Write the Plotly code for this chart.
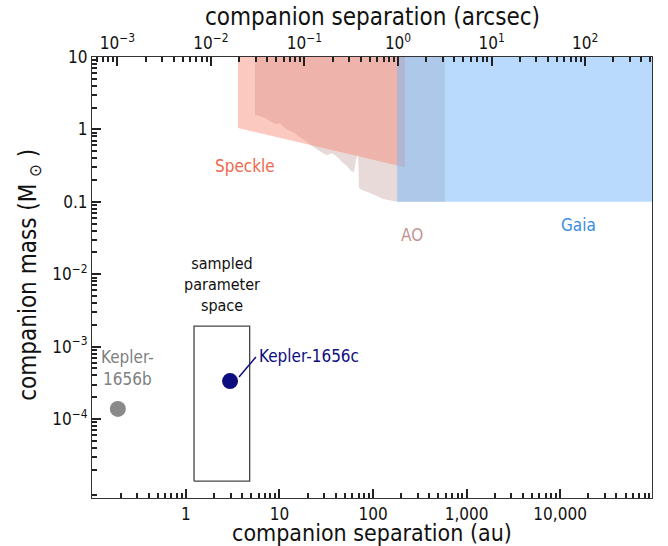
import numpy as np
import plotly.graph_objects as go

# ---------------- data ----------------
DIST_PC = 185.0  # au per arcsec

speckle_x = [3.6, 3.6, 220, 220]
speckle_y = [10, 1.05, 0.30, 10]

ao_sep = [5.47, 5.47, 6.19, 7.0, 8.31, 9.4, 10.1, 10.9, 12.3, 13.6, 14.6, 15.8, 17.8, 20.2,
          22.8, 25.8, 29.2, 32.2, 36.4, 41.2, 46.6, 52.7, 58.2, 62.6, 65.8, 69.2, 70.8,
          76.3, 92.9, 128, 181, 589, 589]
ao_mass = [10, 1.58, 1.53, 1.44, 1.26, 1.19, 1.23, 1.11, 0.98, 0.92, 0.89, 0.81, 0.74, 0.65,
           0.59, 0.52, 0.47, 0.44, 0.47, 0.42, 0.355, 0.31, 0.266, 0.258, 0.38, 0.457, 0.155,
           0.146, 0.132, 0.109, 0.1, 0.1, 10]

gaia_x = [181, 181, 1.2e5, 1.2e5]
gaia_y = [10, 0.1, 0.1, 10]

box_sep = [1.22, 4.8]
box_mass = [1.39e-5, 1.92e-3]

planet_names = ["Kepler-1656b", "Kepler-1656c"]
planet_sep = [0.187, 2.96]
planet_mass = [1.38e-4, 3.35e-4]
planet_colors = ["#8a8a8a", "#0d0d80"]

x_range_au = [0.099, 9.6e4]
y_range = [10 ** -5.09, 10]

top_tickvals = [1e-3, 1e-2, 1e-1, 1e0, 1e1, 1e2]
top_ticktext = ["10<sup>−3</sup>", "10<sup>−2</sup>", "10<sup>−1</sup>", "10<sup>0</sup>",
                "10<sup>1</sup>", "10<sup>2</sup>"]
bot_tickvals = [1, 10, 100, 1000, 10000]
bot_ticktext = ["1", "10", "100", "1,000", "10,000"]
y_tickvals = [10, 1, 0.1, 1e-2, 1e-3, 1e-4]
y_ticktext = ["10", "1", "0.1", "10<sup>−2</sup>", "10<sup>−3</sup>", "10<sup>−4</sup>"]

FONT = "DejaVu Sans Condensed, DejaVu Sans, sans-serif"
TXT = "#111111"
TICKC = "#222222"


def minor_vals(lo_exp, hi_exp):
    return [m * 10.0 ** e for e in range(lo_exp, hi_exp + 1) for m in range(2, 10)]


def all_ticks(major_vals, major_text, lo_exp, hi_exp):
    mv = minor_vals(lo_exp, hi_exp)
    return list(major_vals) + mv, list(major_text) + [""] * len(mv)


fig = go.Figure()

fig.add_trace(go.Scatter(x=ao_sep, y=ao_mass, fill="toself", mode="lines",
                         line=dict(width=0), fillcolor="rgba(190,150,145,0.35)",
                         hoverinfo="skip", showlegend=False))
fig.add_trace(go.Scatter(x=speckle_x, y=speckle_y, fill="toself", mode="lines",
                         line=dict(width=0), fillcolor="rgba(248,120,100,0.40)",
                         hoverinfo="skip", showlegend=False))
fig.add_trace(go.Scatter(x=gaia_x, y=gaia_y, fill="toself", mode="lines",
                         line=dict(width=0), fillcolor="rgba(120,185,250,0.52)",
                         hoverinfo="skip", showlegend=False))

fig.add_trace(go.Scatter(x=[box_sep[0], box_sep[1], box_sep[1], box_sep[0], box_sep[0]],
                         y=[box_mass[0], box_mass[0], box_mass[1], box_mass[1], box_mass[0]],
                         mode="lines", line=dict(color="#444444", width=1.3),
                         hoverinfo="skip", showlegend=False))

fig.add_trace(go.Scatter(x=[3.69, 5.6], y=[3.8e-4, 7.2e-4], mode="lines",
                         line=dict(color=planet_colors[1], width=1.5),
                         hoverinfo="skip", showlegend=False))

fig.add_trace(go.Scatter(x=planet_sep, y=planet_mass, mode="markers",
                         marker=dict(size=16, color=planet_colors, line=dict(width=0)),
                         hoverinfo="skip", showlegend=False))

# invisible traces for helper axes
for xa, ya in [("x2", "y"), ("x3", "y"), ("x4", "y"), ("x", "y2")]:
    fig.add_trace(go.Scatter(x=[1, 1], y=[1, 1], xaxis=xa, yaxis=ya, mode="markers",
                             marker=dict(opacity=0), hoverinfo="skip", showlegend=False))

lg = np.log10


def ann(text, x, y, color, size=17, xanchor="center"):
    fig.add_annotation(text=text, x=lg(x), y=lg(y), xref="x", yref="y", showarrow=False,
                       font=dict(family=FONT, size=size, color=color), xanchor=xanchor,
                       yanchor="middle", align="center")


ann("Speckle", 4.28, 0.31, "#f0684e")
ann("AO", 261, 0.035, "#c39490")
ann("Gaia", 15600, 0.048, "#3a8ee0")
ann("Kepler-1656c", 5.75, 7.4e-4, "#0d0d80", xanchor="left")
ann("Kepler-<br>1656b", 0.24, 5.06e-4, "#808080")
ann("sampled<br>parameter<br>space", 2.43, 7.3e-3, TXT, size=16)

# axis titles
TFONT = dict(family=FONT, size=24, color=TXT)
fig.add_annotation(text="companion separation (au)", xref="paper", yref="paper",
                   x=0.5, y=0, yshift=-35, yanchor="middle", showarrow=False,
                   font=dict(family=FONT, size=23, color=TXT))
fig.add_annotation(text="companion separation (arcsec)", xref="paper", yref="paper",
                   x=0.5, y=1, yshift=40, yanchor="middle", showarrow=False, font=TFONT)
fig.add_annotation(text="companion mass (M <sub>⊙</sub> )", xref="paper", yref="paper",
                   x=0, xshift=-62, y=0.506, xanchor="center", yanchor="middle",
                   textangle=-90, showarrow=False, font=TFONT)

axis_common = dict(type="log", showgrid=False, zeroline=False, showline=True,
                   linecolor="#333333", linewidth=1.2, ticks="inside", ticklen=5,
                   tickcolor=TICKC, tickwidth=1.5, automargin=False,
                   tickfont=dict(family=FONT, size=17, color=TXT))
major_common = dict(type="log", showgrid=False, zeroline=False, showline=False,
                    ticks="inside", ticklen=9, tickcolor=TICKC, tickwidth=1.5,
                    showticklabels=False, automargin=False)

xr = [lg(x_range_au[0]), lg(x_range_au[1])]
xr_top = [lg(x_range_au[0] / DIST_PC), lg(x_range_au[1] / DIST_PC)]
yr = [lg(y_range[0]), lg(y_range[1])]

bx_v, bx_t = all_ticks(bot_tickvals, bot_ticktext, -1, 4)
tx_v, tx_t = all_ticks(top_tickvals, top_ticktext, -4, 2)
y_v, y_t = all_ticks(y_tickvals, y_ticktext, -6, 1)

fig.update_layout(
    width=668, height=546,
    margin=dict(l=92, r=16, t=57, b=48, autoexpand=False),
    paper_bgcolor="white", plot_bgcolor="white",
    xaxis=dict(**axis_common, range=xr, tickvals=bx_v, ticktext=bx_t),
    xaxis2=dict(**axis_common, overlaying="x", side="top", anchor="y", range=xr_top,
                tickvals=tx_v, ticktext=tx_t),
    xaxis3=dict(**major_common, overlaying="x", side="bottom", anchor="y", range=xr,
                tickvals=bot_tickvals),
    xaxis4=dict(**major_common, overlaying="x", side="top", anchor="y", range=xr_top,
                tickvals=top_tickvals),
    yaxis=dict(**axis_common, range=yr, tickvals=y_v, ticktext=y_t, mirror=True),
    yaxis2=dict(**major_common, overlaying="y", side="left", anchor="x", range=yr,
                tickvals=y_tickvals),
)

fig.write_html("out.html")
